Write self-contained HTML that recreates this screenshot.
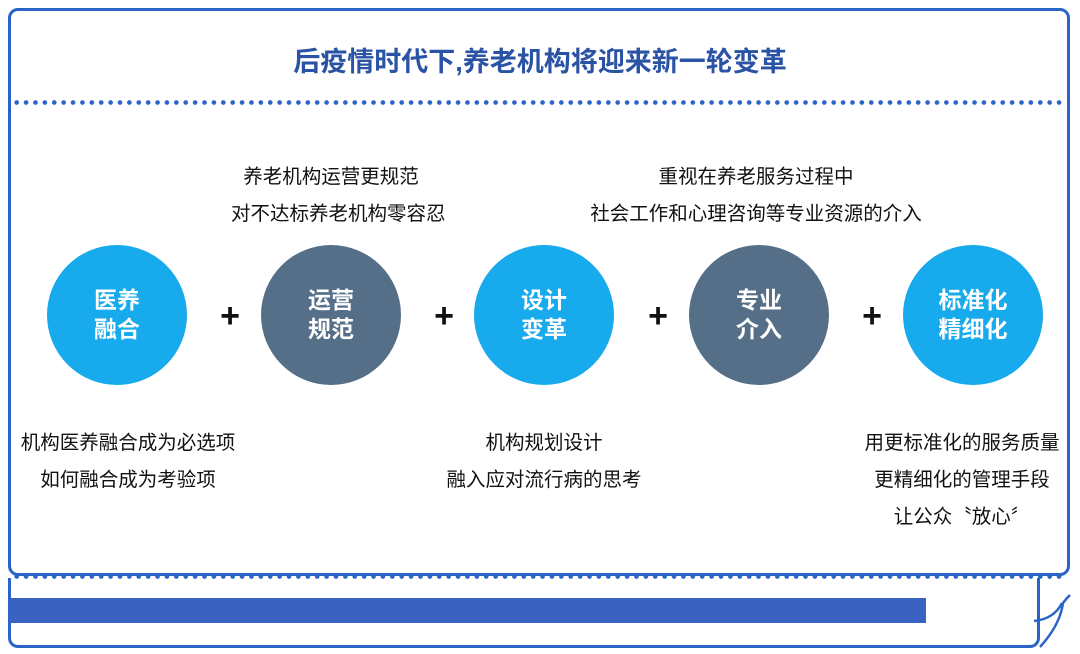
<!DOCTYPE html>
<html><head><meta charset="utf-8"><style>
*{margin:0;padding:0;box-sizing:border-box}
body{width:1080px;height:654px;background:#fff;position:relative;overflow:hidden;font-family:"Liberation Sans","Noto Sans CJK SC",sans-serif}
.frame{position:absolute;left:8px;top:8px;width:1062px;height:568px;border:3px solid #2b63c9;border-radius:10px}
.bot{position:absolute;left:8px;top:578px;width:1032px;height:70px;border:3px solid #2b63c9;border-top:none;border-radius:0 0 10px 10px}
.dots{position:absolute;left:12px;height:5px;width:1054px;background:radial-gradient(circle,#2b63c9 2px,transparent 2.6px) 0 0/9.4px 5px repeat-x}
.bar{position:absolute;left:9px;top:598px;width:917px;height:25px;background:#3a62c0}
.title{position:absolute;left:0;width:1080px;top:40px;text-align:center;font-size:27px;font-weight:bold;color:#2a53a6}
.c{position:absolute;width:140px;height:140px;border-radius:50%;top:245px;color:#fff;font-size:23px;font-weight:bold;display:flex;align-items:center;justify-content:center;text-align:center;line-height:29px}
.lb{background:#17aaec}.dk{background:#566f88}
.plus{position:absolute;top:296px;font-size:34px;font-weight:bold;color:#111;width:30px;text-align:center;line-height:40px}
.t{position:absolute;font-size:19.5px;color:#111;text-align:center;line-height:37px;white-space:nowrap}
</style></head><body>
<div class="frame"></div>
<div class="bot"></div>
<div class="title">后疫情时代下,养老机构将迎来新一轮变革</div>
<div class="dots" style="top:100px"></div>
<div class="dots" style="top:574px"></div>
<div class="bar"></div>
<svg style="position:absolute;left:1030px;top:585px" width="44" height="66"><path d="M10 62 Q30 40 33 18 Q36 14 40 10" fill="none" stroke="#2b63c9" stroke-width="2.5"/><path d="M4 36 Q24 34 32 18" fill="none" stroke="#2b63c9" stroke-width="2.5"/></svg>
<div class="c lb" style="left:47px">医养<br>融合</div>
<div class="c dk" style="left:261px">运营<br>规范</div>
<div class="c lb" style="left:474px">设计<br>变革</div>
<div class="c dk" style="left:689px">专业<br>介入</div>
<div class="c lb" style="left:903px">标准化<br>精细化</div>
<div class="plus" style="left:215px">+</div>
<div class="plus" style="left:429px">+</div>
<div class="plus" style="left:643px">+</div>
<div class="plus" style="left:857px">+</div>
<div class="t" style="left:231px;width:200px;top:159px">养老机构运营更规范<br>对不达标养老机构零容忍</div>
<div class="t" style="left:556px;width:400px;top:159px">重视在养老服务过程中<br>社会工作和心理咨询等专业资源的介入</div>
<div class="t" style="left:8px;width:240px;top:425px">机构医养融合成为必选项<br>如何融合成为考验项</div>
<div class="t" style="left:424px;width:240px;top:425px">机构规划设计<br>融入应对流行病的思考</div>
<div class="t" style="left:852px;width:220px;top:425px">用更标准化的服务质量<br>更精细化的管理手段<br>让公众〝放心〞</div>
</body></html>
